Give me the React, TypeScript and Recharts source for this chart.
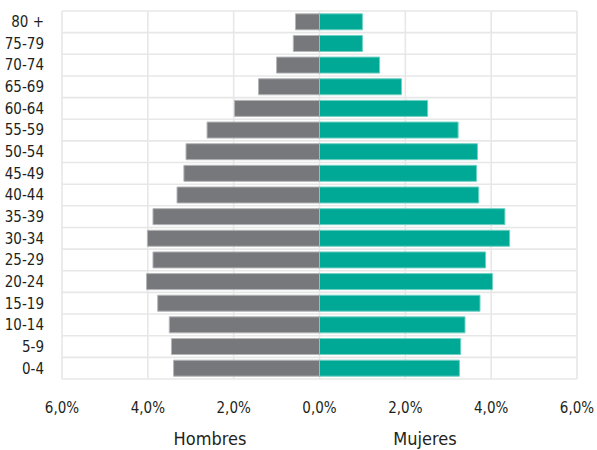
import React from 'react';
import { BarChart, Bar, XAxis, YAxis, CartesianGrid } from 'recharts';

// Population pyramid, % of total population
const AGE_GROUPS = ['80 +', '75-79', '70-74', '65-69', '60-64', '55-59', '50-54', '45-49', '40-44', '35-39', '30-34', '25-29', '20-24', '15-19', '10-14', '5-9', '0-4'];
const HOMBRES = [0.56, 0.61, 1.0, 1.42, 1.98, 2.62, 3.11, 3.16, 3.32, 3.88, 4.01, 3.88, 4.03, 3.77, 3.5, 3.45, 3.4];
const MUJERES = [1.0, 1.0, 1.4, 1.91, 2.52, 3.23, 3.68, 3.66, 3.71, 4.32, 4.43, 3.87, 4.03, 3.74, 3.39, 3.29, 3.26];
const X_TICKS = [-6, -4, -2, 0, 2, 4, 6];

const FONT = "'DejaVu Sans Condensed', 'DejaVu Sans', sans-serif";
const TEXT = '#231f20';
const GRAY = '#76787b';
const TEAL = '#00a896';

const data = AGE_GROUPS.map((age, i) => ({
  age,
  hombres: -HOMBRES[i],
  mujeres: MUJERES[i],
}));

const fmt = (v: number) => Math.abs(v).toFixed(1).replace('.', ',') + '%';

const App: React.FC = () => {
  // grid lines on category boundaries, not centres
  const rowLines = ({ offset }: any) =>
    Array.from({ length: AGE_GROUPS.length + 1 }, (_, i) => offset.top + (i * offset.height) / AGE_GROUPS.length);

  return (
    <div style={{ position: 'absolute', left: 0, top: 0, width: 597, height: 450, fontFamily: FONT, overflow: 'hidden' }}>
      <BarChart
        width={597}
        height={450}
        data={data}
        layout="vertical"
        stackOffset="sign"
        barCategoryGap="13%"
        margin={{ top: 11, right: 20, left: 0, bottom: 41 }}
      >
        <CartesianGrid
          stroke="#e7e7e8"
          strokeWidth={1.6}
          horizontalCoordinatesGenerator={rowLines}
        />
        <XAxis
          type="number"
          domain={[-6, 6]}
          ticks={X_TICKS}
          tickFormatter={fmt}
          height={30}
          axisLine={false}
          tickLine={false}
          tickMargin={17}
          tick={{ fill: TEXT, fontSize: 15, fontFamily: FONT }}
          interval={0}
        />
        <YAxis
          type="category"
          dataKey="age"
          width={62}
          axisLine={false}
          tickLine={false}
          tickMargin={12}
          interval={0}
          tick={{ fill: TEXT, fontSize: 15, fontFamily: FONT }}
        />
        <Bar dataKey="hombres" stackId="p" fill={GRAY} stroke="#b3b5b7" strokeWidth={1} isAnimationActive={false} />
        <Bar dataKey="mujeres" stackId="p" fill={TEAL} stroke="#6fd1c4" strokeWidth={1} isAnimationActive={false} />
      </BarChart>
      <div style={{ position: 'absolute', left: 210, top: 428, transform: 'translateX(-50%)', fontSize: 18, lineHeight: '21px', color: TEXT, whiteSpace: 'nowrap' }}>
        Hombres
      </div>
      <div style={{ position: 'absolute', left: 425, top: 428, transform: 'translateX(-50%)', fontSize: 18, lineHeight: '21px', color: TEXT, whiteSpace: 'nowrap' }}>
        Mujeres
      </div>
    </div>
  );
};

export default App;
